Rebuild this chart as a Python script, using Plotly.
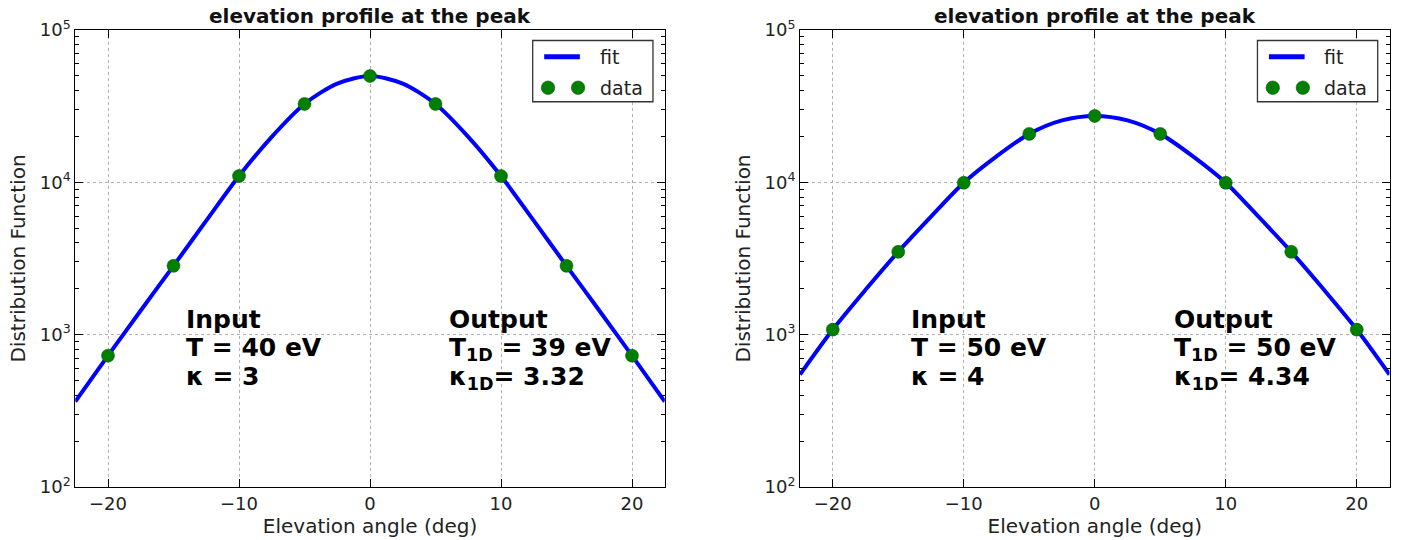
import plotly.graph_objects as go

# ---- data ----
angles = [-20, -15, -10, -5, 0, 5, 10, 15, 20]
data_left = [728, 2830, 11000, 32700, 49900, 32700, 11000, 2830, 728]
data_right = [1080, 3500, 9930, 20800, 27300, 20800, 9930, 3500, 1080]

fit_angles = [-22.5, -20, -17.5, -15, -12.5, -10, -7.5, -5, -2.5, 0,
              2.5, 5, 7.5, 10, 12.5, 15, 17.5, 20, 22.5]
fit_left = [364, 728, 1440, 2830, 5600, 11000, 19900, 32700, 44500, 49900,
            44500, 32700, 19900, 11000, 5600, 2830, 1440, 728, 364]
fit_right = [547, 1080, 1970, 3500, 5950, 9930, 14800, 20800, 25500, 27300,
             25500, 20800, 14800, 9930, 5950, 3500, 1970, 1080, 547]

title_text = "elevation profile at the peak"
xlabel = "Elevation angle (deg)"
ylabel = "Distribution Function"
ytick_vals = [100, 1000, 10000, 100000]
ytick_text = ["10<sup>2</sup>", "10<sup>3</sup>", "10<sup>4</sup>", "10<sup>5</sup>"]
xtick_vals = [-20, -10, 0, 10, 20]
xtick_text = ["\u221220", "\u221210", "0", "10", "20"]
minor_vals = [m * 10 ** e for e in (2, 3, 4) for m in range(2, 10)]
legend_labels = ["fit", "data"]

input_left = ["Input", "T = 40 eV", "\u03ba = 3"]
output_left = ["Output", "T<sub>1D</sub> = 39 eV", "\u03ba<sub>1D</sub>= 3.32"]
input_right = ["Input", "T = 50 eV", "\u03ba = 4"]
output_right = ["Output", "T<sub>1D</sub> = 50 eV", "\u03ba<sub>1D</sub>= 4.34"]

FONT = "DejaVu Sans, sans-serif"
BLUE = "#0000ff"
GREEN = "#007f00"

fig = go.Figure()

panels = [
    dict(fit=fit_left, data=data_left, xa="x", ya="y",
         texts=(input_left, output_left), dom=[75.25 / 1413, 664.75 / 1413]),
    dict(fit=fit_right, data=data_right, xa="x2", ya="y2",
         texts=(input_right, output_right), dom=[800 / 1413, 1389.5 / 1413]),
]

ydom = [1 - 487 / 540, 1 - 30 / 540]

for i, p in enumerate(panels):
    fig.add_trace(go.Scatter(
        x=fit_angles, y=p["fit"], mode="lines", name="fit",
        line=dict(color=BLUE, width=4, shape="spline", smoothing=0.8),
        xaxis=p["xa"], yaxis=p["ya"], showlegend=False))
    fig.add_trace(go.Scatter(
        x=angles, y=p["data"], mode="markers", name="data",
        marker=dict(color=GREEN, size=13, line=dict(color="#005000", width=0.5)),
        xaxis=p["xa"], yaxis=p["ya"], showlegend=False))

axis_common = dict(
    showline=True, linecolor="black", linewidth=1, mirror="ticks",
    ticks="inside", ticklen=8, tickcolor="black", automargin=False,
    showgrid=True, gridcolor="#b0b0b0", griddash="dot", gridwidth=1,
    zeroline=False, tickfont=dict(family=FONT, size=18, color="#222"),
)

layout = dict(
    width=1413, height=540,
    margin=dict(l=0, r=0, t=0, b=0),
    paper_bgcolor="white", plot_bgcolor="white",
    font=dict(family=FONT, color="black"),
    showlegend=False,
)

for i, p in enumerate(panels):
    sfx = "" if i == 0 else "2"
    layout["xaxis" + sfx] = dict(
        axis_common, domain=p["dom"], range=[-22.5, 22.5],
        tickvals=xtick_vals, ticktext=xtick_text, anchor="y" + sfx,
        title=dict(text=xlabel, font=dict(family=FONT, size=20, color="#222"), standoff=2))
    layout["yaxis" + sfx] = dict(
        axis_common, domain=ydom, type="log", range=[2, 5],
        tickvals=ytick_vals, ticktext=ytick_text, anchor="x" + sfx,
        minor=dict(tickvals=minor_vals, ticks="inside", ticklen=4,
                   tickcolor="black", showgrid=False),
        title=dict(text=ylabel, font=dict(family=FONT, size=20, color="#222"), standoff=8))

fig.update_layout(**layout)

# legend drawn in axes-domain coordinates (matplotlib style with two markers)
for i, p in enumerate(panels):
    sfx = "" if i == 0 else "2"
    xr, yr = "x" + sfx + " domain", "y" + sfx + " domain"
    fig.add_shape(type="rect", xref=xr, yref=yr, x0=0.776, x1=0.980, y0=0.843, y1=0.977,
                  line=dict(color="#333", width=1.3), fillcolor="white", layer="above")
    fig.add_shape(type="line", xref=xr, yref=yr, x0=0.7955, x1=0.856, y0=0.9416, y1=0.9416,
                  line=dict(color=BLUE, width=5), layer="above")
    for cx in (0.802, 0.853):
        fig.add_shape(type="circle", xref=xr, yref=yr,
                      x0=cx - 0.0115, x1=cx + 0.0115, y0=0.8737 - 0.0149, y1=0.8737 + 0.0149,
                      line=dict(color="#005000", width=0.5), fillcolor=GREEN, layer="above")
    for lab, yy in zip(legend_labels, (0.9416, 0.8737)):
        fig.add_annotation(text=lab, xref=xr, yref=yr, x=0.886, y=yy,
                           xanchor="left", yanchor="middle", showarrow=False,
                           font=dict(family=FONT, size=19, color="#222"))

line_tops = [0.403, 0.3412, 0.2777]
for i, p in enumerate(panels):
    sfx = "" if i == 0 else "2"
    cx = (p["dom"][0] + p["dom"][1]) / 2
    fig.add_annotation(text="<b>" + title_text + "</b>", xref="paper", yref="paper",
                       x=cx, y=1 - 16 / 540, xanchor="center", yanchor="middle",
                       showarrow=False, font=dict(family=FONT, size=20, color="#111"))
    for lines, xpos in zip(p["texts"], (-14.2, 5.9)):
        for tx, yt in zip(lines, line_tops):
            fig.add_annotation(text="<b>" + tx + "</b>", xref="x" + sfx, yref="y" + sfx + " domain",
                               x=xpos, y=yt, xanchor="left", yanchor="top", align="left",
                               showarrow=False, font=dict(family=FONT, size=25, color="black"))

fig.write_html("out.html", post_script="document.body.style.margin='0px';",
               config={"displayModeBar": False})
